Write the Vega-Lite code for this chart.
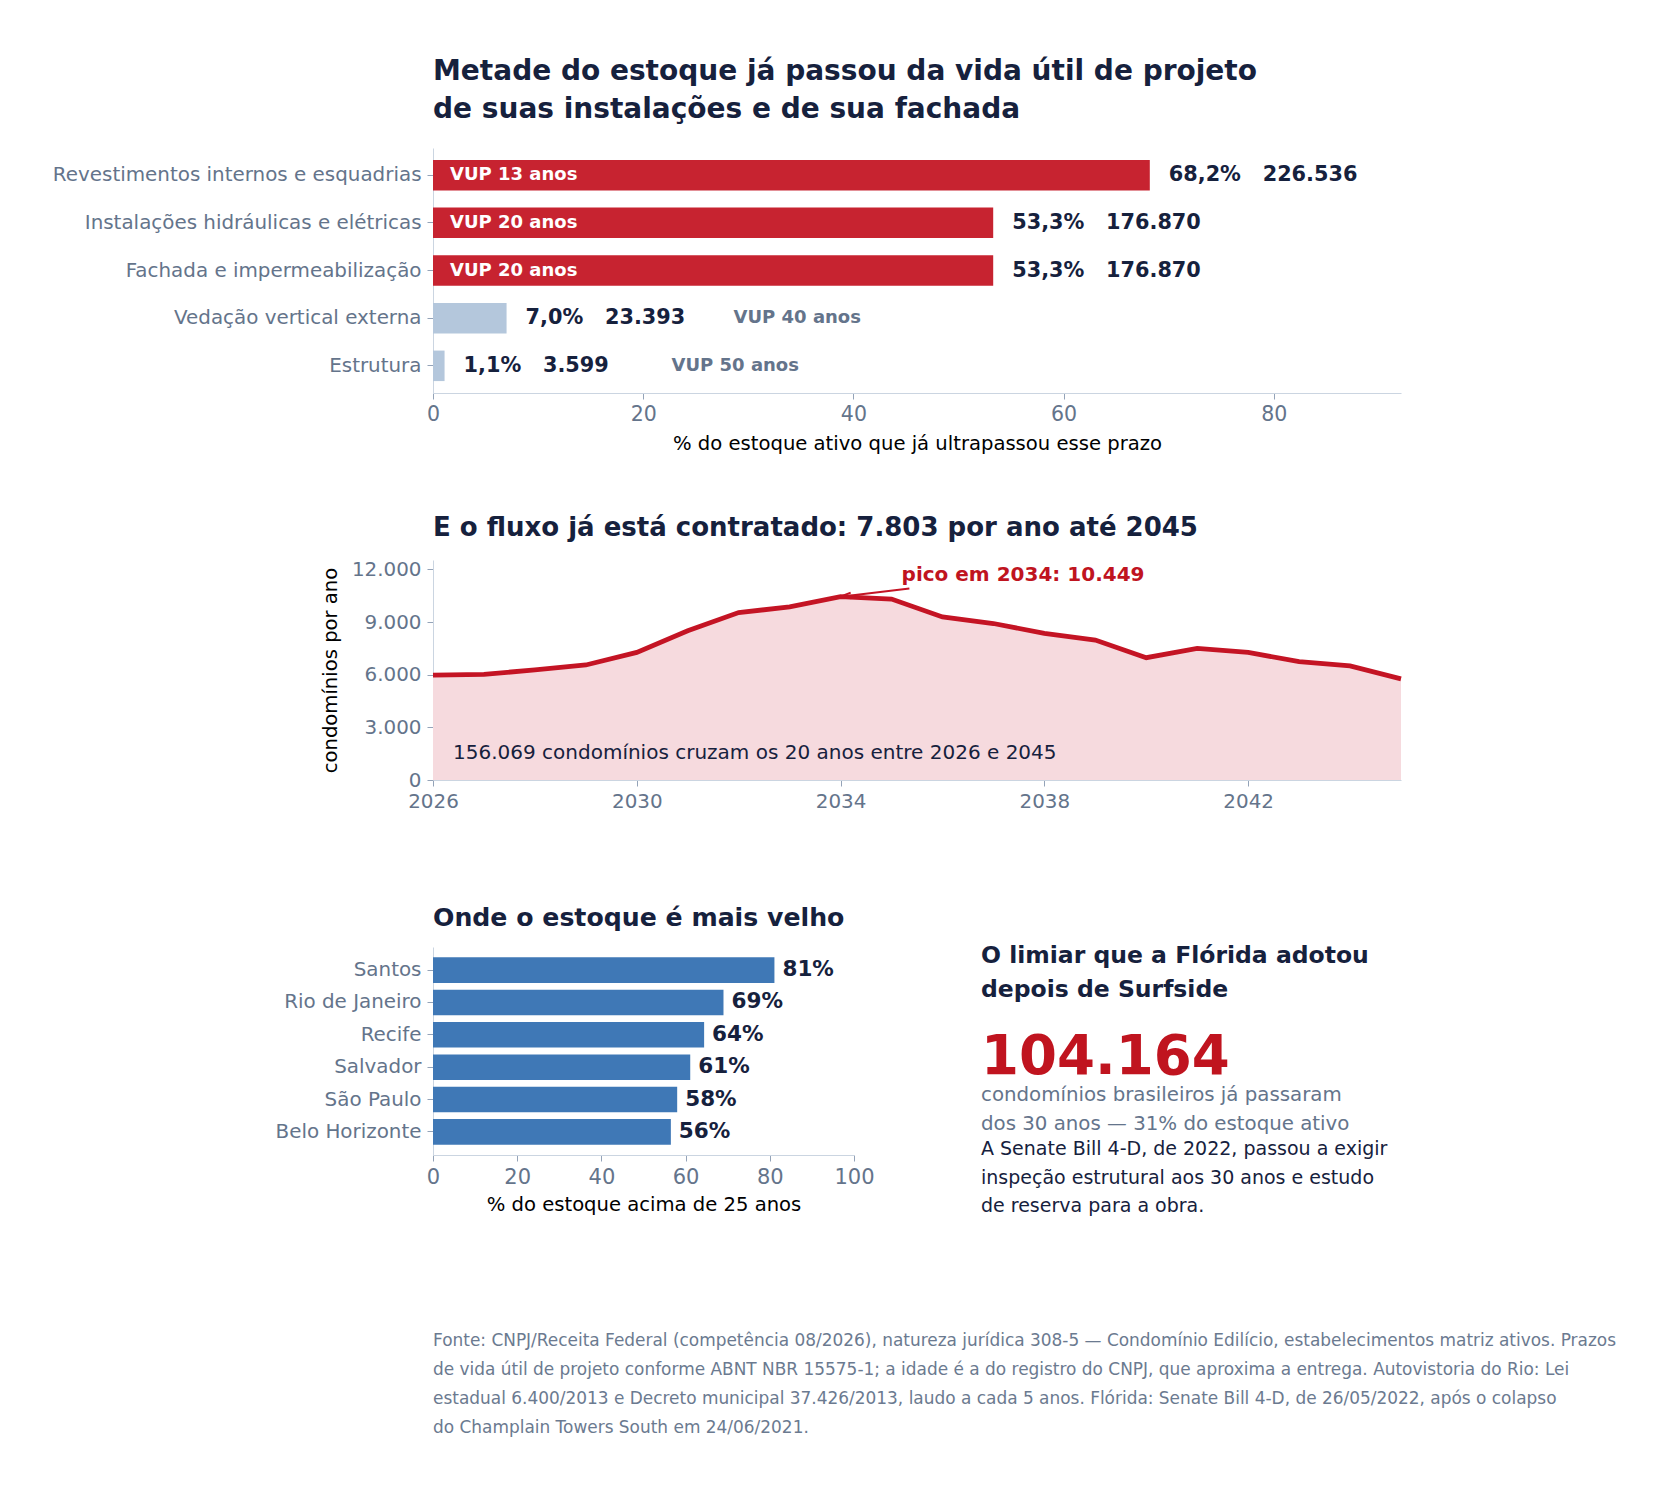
{
  "$schema": "https://vega.github.io/schema/vega-lite/v6.json",
  "background": "white",
  "padding": {"left": 52, "top": 58, "right": 40, "bottom": 40},
  "bounds": "flush",
  "spacing": 167,
  "config": {
    "font": "DejaVu Sans",
    "view": {"stroke": null},
    "locale": {"number": {"decimal": ",", "thousands": ".", "grouping": [3], "currency": ["R$ ", ""]}},
    "axis": {
      "labelFont": "DejaVu Sans", "labelFontSize": 19.9, "labelColor": "#64748b", "labelFlush": false,
      "domainColor": "#cbd5e1", "tickColor": "#94a3b8", "tickSize": 6, "labelPadding": 5,
      "grid": false, "labelLimit": 600,
      "titleFont": "DejaVu Sans", "titleFontSize": 19.6, "titleFontWeight": "normal", "titleColor": "#000000"
    },
    "title": {"font": "DejaVu Sans", "fontWeight": "bold", "color": "#16213d", "anchor": "start", "frame": "group"}
  },
  "vconcat": [
    {
      "width": 968,
      "height": 245,
      "title": {
        "text": ["Metade do estoque já passou da vida útil de projeto", "de suas instalações e de sua fachada"],
        "fontSize": 28, "lineHeight": 38, "offset": 24
      },
      "data": {"values": [
        {"sistema": "Revestimentos internos e esquadrias", "pct": 68.2, "condominios": 226536, "vup": 13, "situacao": "passou", "rotulo": "68,2%\u00a0\u00a0\u00a0226.536", "vup_rotulo": "VUP 13 anos"},
        {"sistema": "Instalações hidráulicas e elétricas", "pct": 53.3, "condominios": 176870, "vup": 20, "situacao": "passou", "rotulo": "53,3%\u00a0\u00a0\u00a0176.870", "vup_rotulo": "VUP 20 anos"},
        {"sistema": "Fachada e impermeabilização", "pct": 53.3, "condominios": 176870, "vup": 20, "situacao": "passou", "rotulo": "53,3%\u00a0\u00a0\u00a0176.870", "vup_rotulo": "VUP 20 anos"},
        {"sistema": "Vedação vertical externa", "pct": 7.0, "condominios": 23393, "vup": 40, "situacao": "nao", "rotulo": "7,0%\u00a0\u00a0\u00a023.393", "vup_rotulo": "VUP 40 anos"},
        {"sistema": "Estrutura", "pct": 1.1, "condominios": 3599, "vup": 50, "situacao": "nao", "rotulo": "1,1%\u00a0\u00a0\u00a03.599", "vup_rotulo": "VUP 50 anos"}
      ]},
      "encoding": {
        "y": {"field": "sistema", "type": "nominal", "sort": null,
              "scale": {"paddingInner": 0.36, "paddingOuter": 0.25},
              "axis": {"title": null, "labelPadding": 6}},
        "x": {"field": "pct", "type": "quantitative",
              "scale": {"domain": [0, 92.1], "nice": false},
              "axis": {"values": [0, 20, 40, 60, 80], "labelFontSize": 20.5, "title": "% do estoque ativo que já ultrapassou esse prazo", "titlePadding": 10}}
      },
      "layer": [
        {
          "mark": {"type": "bar"},
          "encoding": {
            "color": {"field": "situacao", "type": "nominal",
                      "scale": {"domain": ["passou", "nao"], "range": ["#c72330", "#b4c7dc"]}, "legend": null}
          }
        },
        {
          "mark": {"type": "text", "align": "left", "baseline": "middle", "dx": 19, "fontWeight": "bold", "fontSize": 20.8, "color": "#16213d"},
          "encoding": {"text": {"field": "rotulo"}}
        },
        {
          "transform": [{"filter": "datum.situacao == 'passou'"}],
          "mark": {"type": "text", "align": "left", "baseline": "middle", "dx": 17, "fontWeight": "bold", "fontSize": 18, "color": "#ffffff"},
          "encoding": {"x": {"datum": 0}, "text": {"field": "vup_rotulo"}}
        },
        {
          "transform": [{"filter": "datum.situacao == 'nao'"}],
          "mark": {"type": "text", "align": "left", "baseline": "middle", "dx": 227, "fontWeight": "bold", "fontSize": 18, "color": "#64748b"},
          "encoding": {"text": {"field": "vup_rotulo"}}
        }
      ]
    },
    {
      "width": 968,
      "height": 220,
      "title": {"text": "E o fluxo já está contratado: 7.803 por ano até 2045", "fontSize": 26, "offset": 18},
      "data": {"values": [
        {"ano": 2026, "condominios": 5980},
        {"ano": 2027, "condominios": 6020},
        {"ano": 2028, "condominios": 6274},
        {"ano": 2029, "condominios": 6557},
        {"ano": 2030, "condominios": 7275},
        {"ano": 2031, "condominios": 8503},
        {"ano": 2032, "condominios": 9543},
        {"ano": 2033, "condominios": 9864},
        {"ano": 2034, "condominios": 10449},
        {"ano": 2035, "condominios": 10316},
        {"ano": 2036, "condominios": 9297},
        {"ano": 2037, "condominios": 8920},
        {"ano": 2038, "condominios": 8352},
        {"ano": 2039, "condominios": 7974},
        {"ano": 2040, "condominios": 6972},
        {"ano": 2041, "condominios": 7502},
        {"ano": 2042, "condominios": 7275},
        {"ano": 2043, "condominios": 6745},
        {"ano": 2044, "condominios": 6500},
        {"ano": 2045, "condominios": 5760}
      ]},
      "encoding": {
        "x": {"field": "ano", "type": "quantitative",
              "scale": {"domain": [2026, 2045], "nice": false, "zero": false},
              "axis": {"values": [2026, 2030, 2034, 2038, 2042], "format": "d", "title": null}},
        "y": {"field": "condominios", "type": "quantitative",
              "scale": {"domain": [0, 12540], "nice": false},
              "axis": {"values": [0, 3000, 6000, 9000, 12000], "format": ",d", "title": "condomínios por ano", "titlePadding": 11, "labelPadding": 6}}
      },
      "layer": [
        {"mark": {"type": "area", "color": "#f6dade"}},
        {"mark": {"type": "line", "color": "#c41424", "strokeWidth": 4.8}},
        {
          "data": {"values": [{"ano": 2034, "condominios": 10449, "texto": "pico em 2034: 10.449"}]},
          "mark": {"type": "rule", "color": "#c41424", "strokeWidth": 2},
          "encoding": {"x2": {"datum": 2035.35}, "y2": {"datum": 10914}}
        },
        {
          "data": {"values": [{"ano": 2034, "condominios": 10449, "texto": "pico em 2034: 10.449"}]},
          "mark": {"type": "point", "shape": "M2,-0.55L0,0L2,0.55", "filled": false, "size": 110, "angle": -6.7, "strokeWidth": 2, "color": "#c41424", "opacity": 1}
        },
        {
          "data": {"values": [{"ano": 2034, "condominios": 10449, "texto": "pico em 2034: 10.449"}]},
          "mark": {"type": "text", "align": "left", "baseline": "alphabetic", "dx": 61, "dy": -16, "fontWeight": "bold", "fontSize": 20, "color": "#c0141f"},
          "encoding": {"text": {"field": "texto"}}
        },
        {
          "data": {"values": [{"ano": 2026, "condominios": 0, "texto": "156.069 condomínios cruzam os 20 anos entre 2026 e 2045"}]},
          "mark": {"type": "text", "align": "left", "baseline": "alphabetic", "dx": 20, "dy": -21, "fontSize": 20, "color": "#16213d"},
          "encoding": {"text": {"field": "texto"}}
        }
      ]
    },
    {
      "bounds": "flush",
      "spacing": 548,
      "hconcat": [
        {
          "bounds": "flush",
          "spacing": 166,
          "vconcat": [
            {
              "width": 421,
              "height": 208,
              "title": {"text": "Onde o estoque é mais velho", "fontSize": 25.2, "offset": 16},
              "data": {"values": [
                {"cidade": "Santos", "pct": 81.1, "rotulo": "81%"},
                {"cidade": "Rio de Janeiro", "pct": 69.0, "rotulo": "69%"},
                {"cidade": "Recife", "pct": 64.4, "rotulo": "64%"},
                {"cidade": "Salvador", "pct": 61.1, "rotulo": "61%"},
                {"cidade": "São Paulo", "pct": 58.0, "rotulo": "58%"},
                {"cidade": "Belo Horizonte", "pct": 56.5, "rotulo": "56%"}
              ]},
              "encoding": {
                "y": {"field": "cidade", "type": "nominal", "sort": null,
                      "scale": {"paddingInner": 0.21, "paddingOuter": 0.32},
                      "axis": {"title": null, "labelPadding": 6}},
                "x": {"field": "pct", "type": "quantitative",
                      "scale": {"domain": [0, 100], "nice": false},
                      "axis": {"values": [0, 20, 40, 60, 80, 100], "labelFontSize": 21, "title": "% do estoque acima de 25 anos", "titlePadding": 8}}
              },
              "layer": [
                {"mark": {"type": "bar", "color": "#3f78b6"}},
                {
                  "mark": {"type": "text", "align": "left", "baseline": "middle", "dx": 8, "fontWeight": "bold", "fontSize": 21.5, "color": "#16213d"},
                  "encoding": {"text": {"field": "rotulo"}}
                }
              ]
            },
            {
              "width": 1190,
              "height": 87,
              "data": {"values": [
                {"linha": 1, "texto": "Fonte: CNPJ/Receita Federal (competência 08/2026), natureza jurídica 308-5 — Condomínio Edilício, estabelecimentos matriz ativos. Prazos"},
                {"linha": 2, "texto": "de vida útil de projeto conforme ABNT NBR 15575-1; a idade é a do registro do CNPJ, que aproxima a entrega. Autovistoria do Rio: Lei"},
                {"linha": 3, "texto": "estadual 6.400/2013 e Decreto municipal 37.426/2013, laudo a cada 5 anos. Flórida: Senate Bill 4-D, de 26/05/2022, após o colapso"},
                {"linha": 4, "texto": "do Champlain Towers South em 24/06/2021."}
              ]},
              "mark": {"type": "text", "align": "left", "baseline": "alphabetic", "dy": 25, "fontSize": 16.95, "color": "#6b7a90"},
              "encoding": {
                "x": {"datum": 0, "type": "quantitative", "scale": {"domain": [0, 1]}, "axis": null},
                "y": {"field": "linha", "type": "ordinal", "scale": {"type": "point", "padding": 0}, "axis": null},
                "text": {"field": "texto"}
              }
            }
          ]
        },
        {
          "width": 420,
          "height": 208,
          "data": {"values": [
            {"bloco": "titulo", "texto": "O limiar que a Flórida adotou\ndepois de Surfside"},
            {"bloco": "numero", "texto": "104.164"},
            {"bloco": "texto", "texto": "condomínios brasileiros já passaram\ndos 30 anos — 31% do estoque ativo"},
            {"bloco": "nota", "texto": "A Senate Bill 4-D, de 2022, passou a exigir\ninspeção estrutural aos 30 anos e estudo\nde reserva para a obra."}
          ]},
          "encoding": {
            "x": {"datum": 0, "type": "quantitative", "scale": {"domain": [0, 1]}, "axis": null},
            "y": {"field": "bloco", "type": "nominal", "sort": null,
                  "scale": {"type": "point", "padding": 0, "domain": ["titulo", "numero", "texto", "nota"]}, "axis": null},
            "text": {"field": "texto"}
          },
          "layer": [
            {
              "transform": [{"filter": "datum.bloco == 'titulo'"}],
              "mark": {"type": "text", "align": "left", "baseline": "alphabetic", "lineBreak": "\n", "lineHeight": 34, "dy": 16, "fontSize": 23.5, "fontWeight": "bold", "color": "#16213d"}
            },
            {
              "transform": [{"filter": "datum.bloco == 'numero'"}],
              "mark": {"type": "text", "align": "left", "baseline": "alphabetic", "dy": 58, "fontSize": 54.6, "fontWeight": "bold", "color": "#c0141f"}
            },
            {
              "transform": [{"filter": "datum.bloco == 'texto'"}],
              "mark": {"type": "text", "align": "left", "baseline": "alphabetic", "lineBreak": "\n", "lineHeight": 29, "dy": 15.5, "fontSize": 19.8, "color": "#64748b"}
            },
            {
              "transform": [{"filter": "datum.bloco == 'nota'"}],
              "mark": {"type": "text", "align": "left", "baseline": "alphabetic", "lineBreak": "\n", "lineHeight": 28.5, "dy": 0, "fontSize": 19, "color": "#16213d"}
            }
          ]
        }
      ]
    }
  ]
}
